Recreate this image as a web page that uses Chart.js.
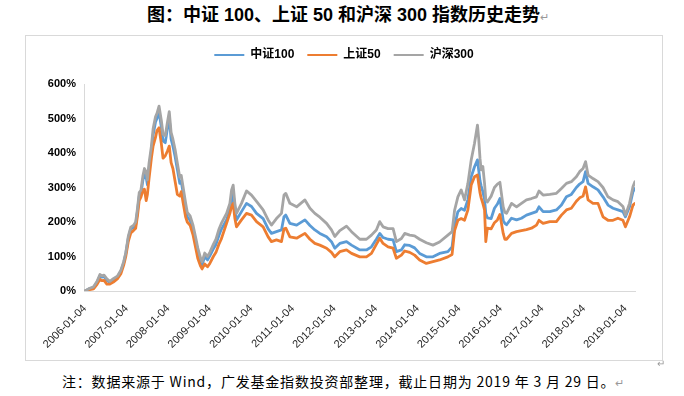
<!DOCTYPE html>
<html>
<head>
<meta charset="utf-8">
<script src="https://cdn.jsdelivr.net/npm/chart.js@4.4.1/dist/chart.umd.min.js"></script>
<style>
html,body{margin:0;padding:0;background:#fff;}
body{width:684px;height:396px;position:relative;overflow:hidden;font-family:"Noto Sans CJK SC",sans-serif;color:#000;}
#title{position:absolute;left:147px;top:3px;white-space:nowrap;font-size:18px;font-weight:bold;line-height:24px;font-family:"Liberation Sans","Noto Sans CJK SC",sans-serif;}
.ret{font-weight:normal;color:#999;font-size:11px;letter-spacing:0;}
#frame{position:absolute;left:25px;top:35px;width:636px;height:324px;border:1px solid #d9d9d9;}
#note{position:absolute;left:62px;top:371px;white-space:nowrap;font-size:14px;letter-spacing:0.8px;line-height:20px;font-family:"Noto Sans CJK SC",sans-serif;}
#mark{position:absolute;left:657px;top:355px;font-size:10px;color:#999;}
</style>
</head>
<body>
<div id="title">图：中证 100、上证 50 和沪深 300 指数历史走势<span class="ret">↵</span></div>
<div id="frame"><canvas id="c" width="636" height="324"></canvas></div>
<div id="mark">↵</div>
<div id="note">注：数据来源于 Wind，广发基金指数投资部整理，截止日期为 2019 年 3 月 29 日。<span class="ret">↵</span></div>
<script>
// ---- data (cumulative return since 2006-01-04, %) ----
const dates = [
'2006-01-04','2006-02-15','2006-03-20','2006-04-20','2006-05-15','2006-06-01','2006-06-20','2006-07-15','2006-08-10','2006-09-10','2006-10-15','2006-11-15','2006-12-10','2006-12-28',
'2007-01-20','2007-02-10','2007-03-05','2007-03-25','2007-04-10','2007-04-25','2007-05-10','2007-05-28','2007-06-10','2007-06-25','2007-07-06','2007-07-20','2007-08-10','2007-08-25','2007-09-15','2007-09-28','2007-10-16','2007-11-05','2007-11-20','2007-12-10','2007-12-28',
'2008-01-14','2008-01-30','2008-02-15','2008-03-05','2008-03-25','2008-04-15','2008-04-28','2008-05-15','2008-06-05','2008-06-20','2008-07-15','2008-08-10','2008-09-05','2008-09-20','2008-10-15','2008-10-28','2008-11-20','2008-12-15',
'2009-01-05','2009-02-05','2009-02-28','2009-03-25','2009-04-15','2009-06-01','2009-06-30','2009-07-15','2009-07-29','2009-08-13','2009-08-27','2009-10-10','2009-11-23',
'2010-01-06','2010-02-19','2010-04-18','2010-06-01','2010-06-30','2010-08-13','2010-09-26','2010-10-18','2010-11-03','2010-12-09',
'2011-02-06','2011-04-20','2011-06-03','2011-07-16','2011-08-29','2011-10-27','2011-12-09',
'2012-01-07','2012-02-20','2012-04-19','2012-06-02','2012-08-14','2012-10-11','2012-11-24',
'2013-01-07','2013-02-06','2013-03-07','2013-04-20','2013-06-03','2013-07-02','2013-08-15','2013-09-13','2013-10-27','2013-12-09',
'2014-01-22','2014-03-22','2014-05-19','2014-07-16','2014-09-27','2014-11-03','2014-11-25','2014-12-24',
'2015-01-22','2015-02-20','2015-03-22','2015-04-20','2015-05-19','2015-06-14','2015-06-25','2015-07-06','2015-07-16','2015-07-31','2015-08-15','2015-08-26','2015-09-09','2015-10-12','2015-11-10','2015-12-06','2015-12-28',
'2016-01-26','2016-02-09','2016-02-24','2016-04-08','2016-05-22','2016-07-04','2016-08-17','2016-09-30','2016-11-13','2016-12-05',
'2017-01-11','2017-03-11','2017-05-08','2017-06-21','2017-08-04','2017-09-16','2017-10-30','2017-11-28','2017-12-28',
'2018-01-19','2018-02-10','2018-03-25','2018-05-08','2018-06-21','2018-08-04','2018-09-17','2018-10-30','2018-12-13',
'2019-01-04','2019-02-09','2019-03-11','2019-03-29'
];
const hs300 = [
0,8,12,28,48,44,46,35,28,36,43,60,85,111,
160,185,190,200,240,285,292,335,355,345,322,370,420,470,505,515,536,495,455,450,488,
520,460,440,410,370,330,335,300,256,228,218,190,150,125,95,85,110,100,
112,135,150,178,195,225,254,293,307,254,225,254,290,
278,260,235,206,191,210,225,278,283,254,
244,264,240,225,214,196,177,
158,175,188,172,150,150,162,
177,201,186,181,181,143,152,167,162,160,
150,140,133,142,162,172,234,273,
293,264,312,380,428,481,440,385,351,361,312,265,258,275,300,310,315,
244,228,225,254,244,254,264,268,273,290,
278,280,283,297,312,317,331,346,355,
375,336,326,317,300,273,264,259,245,
220,254,302,317
];
const csi100 = [
0,7,10,25,44,40,42,31,25,33,40,57,82,108,
155,180,184,192,232,275,282,322,340,330,308,355,405,452,490,500,520,475,435,430,470,
500,440,420,390,352,312,318,283,242,215,205,178,140,115,85,76,100,90,
102,122,135,160,178,206,235,264,283,235,206,230,254,
245,225,210,180,167,172,177,215,220,196,
191,206,190,177,167,157,143,
124,138,143,133,119,119,128,
150,167,155,150,148,114,119,134,132,125,
109,99,99,109,114,128,190,230,
239,234,265,331,360,380,350,320,305,288,265,225,212,210,240,252,268,
205,196,192,211,206,211,220,225,230,244,
230,230,235,249,273,280,300,310,317,
346,312,302,293,273,249,240,235,230,
215,244,288,297
];
const sse50 = [
0,4,6,19,34,30,31,20,20,26,35,50,75,100,
145,168,175,182,218,262,272,292,295,262,280,325,385,420,445,465,473,428,385,392,405,
420,372,355,318,280,275,288,255,215,200,190,162,120,95,72,64,78,70,
80,100,112,135,150,196,225,245,254,210,186,206,225,
220,201,186,157,143,148,143,180,182,157,
153,167,150,138,133,124,112,
99,114,119,109,99,99,109,
135,153,138,128,124,95,104,116,112,104,
90,80,85,90,99,106,175,205,
210,205,235,307,331,336,310,285,270,254,235,143,182,180,198,206,222,
167,150,150,167,172,175,178,182,191,205,
196,201,201,220,235,240,260,270,275,
302,264,254,254,215,205,205,211,205,
186,215,249,254
];
const yTicks = [0,100,200,300,400,500,600];
const xTickLabels = ['2006-01-04','2007-01-04','2008-01-04','2009-01-04','2010-01-04','2011-01-04','2012-01-04','2013-01-04','2014-01-04','2015-01-04','2016-01-04','2017-01-04','2018-01-04','2019-01-04'];
const seriesNames = ['中证100','上证50','沪深300'];
const seriesColors = ['#5B9BD5','#ED7D31','#A5A5A5'];

// date string -> fractional year (01-04 of each year = whole number)
function toYear(s){
  const p = s.split('-').map(Number);
  const doy = (Date.UTC(p[0],p[1]-1,p[2]) - Date.UTC(p[0],0,1))/86400000 + 1;
  return p[0] + (doy-4)/365;
}
const xs = dates.map(toYear);
const tickPos = xTickLabels.map(toYear);
const pts = arr => arr.map((v,i)=>({x:xs[i], y:v}));

const legendBox = {
  id:'legendBox',
  beforeInit(chart){
    const orig = chart.legend.fit;
    chart.legend.fit = function(){ orig.call(this); this.height = 48; };
  },
  afterLayout(chart){
    // centre the legend over the whole frame, not only the padded box
    const lg = chart.legend;
    lg.right = chart.width; lg.width = lg.right - lg.left;
  }
};

const latin = '"Liberation Sans","Noto Sans CJK SC",sans-serif';
new Chart(document.getElementById('c'), {
  type:'line',
  data:{
    datasets:[
      {label:seriesNames[0], data:pts(csi100), borderColor:seriesColors[0], backgroundColor:seriesColors[0], order:3},
      {label:seriesNames[1], data:pts(sse50), borderColor:seriesColors[1], backgroundColor:seriesColors[1], order:2},
      {label:seriesNames[2], data:pts(hs300), borderColor:seriesColors[2], backgroundColor:seriesColors[2], order:1}
    ]
  },
  options:{
    responsive:false, animation:false, devicePixelRatio:1,
    layout:{padding:{left:0,right:27,top:0,bottom:0}},
    elements:{line:{borderWidth:2.8, tension:0, borderJoinStyle:'round', borderCapStyle:'round'}, point:{radius:0}},
    plugins:{
      tooltip:{enabled:false},
      legend:{
        position:'top',
        labels:{
          boxWidth:30, boxHeight:2, padding:13, color:'#000',
          font:{family:latin, size:12, weight:'bold'},
          sort:(a,b)=>a.datasetIndex-b.datasetIndex,
          generateLabels(chart){
            return Chart.defaults.plugins.legend.labels.generateLabels(chart).map(it=>{ it.lineWidth=0; it.fillStyle=seriesColors[it.datasetIndex]; return it; });
          }
        }
      }
    },
    scales:{
      x:{
        type:'linear', min:tickPos[0]-0.024, max:xs[xs.length-1],
        grid:{display:false, drawTicks:false},
        border:{display:true, color:'#d9d9d9', width:1},
        afterBuildTicks(scale){ scale.ticks = tickPos.map(v=>({value:v})); },
        afterFit(scale){ scale.height = 69; },
        ticks:{
          autoSkip:false, minRotation:45, maxRotation:45, padding:11, color:'#262626',
          font:{family:latin, size:11},
          callback(v){ const i = tickPos.indexOf(v); return i>=0 ? xTickLabels[i] : ''; }
        }
      },
      y:{
        min:0, max:600,
        grid:{display:false, drawTicks:false},
        border:{display:true, color:'#d9d9d9', width:1},
        afterBuildTicks(scale){ scale.ticks = yTicks.map(v=>({value:v})); },
        afterFit(scale){ scale.width = 58; },
        ticks:{ padding:8, color:'#000', font:{family:latin, size:11, weight:'bold'}, callback:v=>v+'%' }
      }
    }
  },
  plugins:[legendBox]
});
</script>
</body>
</html>
